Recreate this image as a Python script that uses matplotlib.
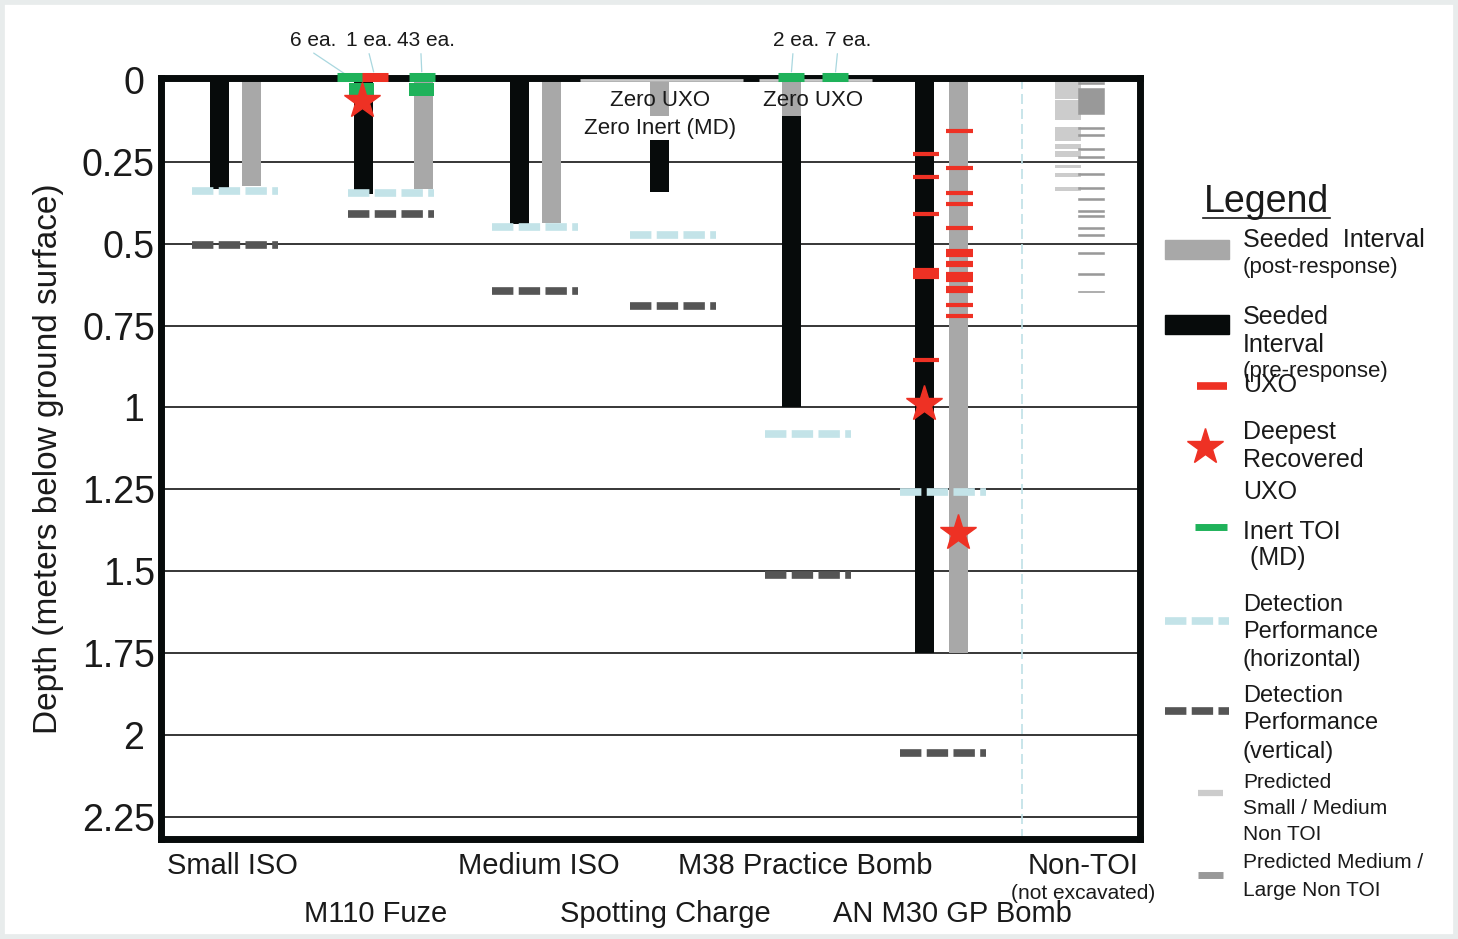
import numpy as np
import matplotlib
matplotlib.use("Agg")
import matplotlib.pyplot as plt
from matplotlib.patches import Rectangle

plt.rcParams['font.family'] = ['Liberation Sans', 'DejaVu Sans']

# ---- data (depth in meters below ground surface) ----
items = ["Small ISO", "M110 Fuze", "Medium ISO", "Spotting Charge",
         "M38 Practice Bomb", "AN M30 GP Bomb"]
pre_depth = [0.333, 0.348, 0.440, 0.342, 1.0, 1.75]     # seeded interval (pre-response)
post_depth = [0.323, 0.333, 0.437, 0.118, 0.109, 1.75]  # seeded interval (post-response)
det_horiz = [0.339, 0.345, 0.449, 0.473, 1.080, 1.257]
det_vert = [0.504, 0.410, 0.645, 0.690, 1.512, 2.054]

# UXO recovered, AN M30 GP Bomb
uxo_pre = [0.225, 0.297, 0.409, 0.581, 0.592, 0.603, 0.856]
uxo_post = [0.156, 0.268, 0.345, 0.379, 0.451, 0.523, 0.529, 0.535,
            0.558, 0.566, 0.594, 0.602, 0.611, 0.635, 0.645, 0.686, 0.721]
deepest_depth = [0.065, 0.991, 1.383]

# inert TOI just below surface (M110)
inert_top = [0.008, 0.008]
inert_bot = [0.048, 0.048]

# counts found at the surface
surface_text = ["6 ea.", "1 ea.", "43 ea.", "2 ea.", "7 ea."]
surface_kind = ["inert", "uxo", "inert", "inert", "inert"]

# non-TOI predictions (not excavated): (top, bottom)
nontoi_small = [(0.0, 0.057), (0.062, 0.123), (0.144, 0.185), (0.195, 0.210),
                (0.218, 0.236), (0.259, 0.268), (0.284, 0.297), (0.327, 0.338)]
nontoi_large = [(0.006, 0.013), (0.024, 0.103), (0.144, 0.150), (0.166, 0.172),
                (0.207, 0.213), (0.231, 0.237), (0.284, 0.290), (0.327, 0.334),
                (0.361, 0.367), (0.397, 0.403), (0.412, 0.418), (0.448, 0.454),
                (0.471, 0.477), (0.525, 0.531), (0.590, 0.596), (0.643, 0.649)]

cat_labels = items + ["Non-TOI"]
label_row = [0, 1, 0, 1, 0, 1, 0]

# ---- layout (x in plot units) ----
pre_x = [219, 363, 519, 659, 791, 924]
post_x = [251, 423, 551, 659, 791, 958]
det_x0 = [192, 348, 492, 630, 765, 900]
label_x = [232, 376, 539, 665, 805, 952, 1083]
inert_x = [361.5, 421.5]
surface_x = [350, 375, 422, 791, 835]
surface_tx = [313, 369, 426, 796, 848]
surface_rel = [0.4, 0.48, 0.41, 0.44, 0.28]
deepest_x = [362, 924, 958]

BLACK = '#070b0b'
GRAY = '#a8a8a8'
RED = '#ee3124'
GREEN = '#1fb25a'
LBLUE = '#c3e3e8'
DGRAY = '#555555'
LGRAY = '#cccccc'
MGRAY = '#999999'
TXT = '#1a1a1a'

fig = plt.figure(figsize=(14.58, 9.39), dpi=100)
fig.patch.set_facecolor('white')
fig.patches.append(Rectangle((0, 0), 1, 1, transform=fig.transFigure, fill=False,
                             edgecolor='#e8ecec', lw=7))

ax = fig.add_axes([160.5 / 1458, 100 / 939, 979 / 1458, 761 / 939])
ax.set_xlim(160.5, 1139.5)
ax.set_ylim(2.318, -0.006)

# grid
for d in np.arange(0.25, 2.26, 0.25):
    ax.axhline(d, color='black', lw=1.1, zorder=1)

# seeded intervals
ax.bar(pre_x, pre_depth, bottom=0, width=19, color=BLACK, zorder=2)
ax.bar(post_x, post_depth, bottom=0, width=19, color=GRAY, zorder=3)

# detection performance
for x0, dh, dv in zip(det_x0, det_horiz, det_vert):
    ax.plot([x0, x0 + 86], [dh, dh], color=LBLUE, lw=5.5, ls=(0, (2.8, 0.7)),
            dash_capstyle='butt', zorder=4)
    ax.plot([x0, x0 + 86], [dv, dv], color=DGRAY, lw=5.5, ls=(0, (2.8, 0.7)),
            dash_capstyle='butt', zorder=4)

# inert TOI boxes
ax.bar(inert_x, np.array(inert_bot) - np.array(inert_top), bottom=inert_top,
       width=25, color=GREEN, zorder=5)

# UXO on AN M30
ax.hlines(uxo_pre, pre_x[5] - 11, pre_x[5] + 15, color=RED, lw=3, zorder=5)
ax.hlines(uxo_post, post_x[5] - 12, post_x[5] + 15, color=RED, lw=3, zorder=5)

# deepest recovered
ax.plot(deepest_x, deepest_depth, ls='none', marker='*', ms=27, color=RED,
        mec=RED, zorder=8)

# non-TOI
for top, bot in nontoi_small:
    ax.bar(1068, bot - top, bottom=top, width=26, color=LGRAY, zorder=3)
for top, bot in nontoi_large:
    ax.bar(1091, bot - top, bottom=top, width=26, color=MGRAY, zorder=3,
           edgecolor=MGRAY, lw=0.4)
ax.axvline(1022, color='#bfe0e6', lw=1.2, ls=(0, (6, 3)), zorder=1)

# light band on surface line
ax.hlines([0.0, 0.0], [580, 759], [743, 872], color='#c8c8c8', lw=2,
          zorder=11, clip_on=False)

# surface counts
for txt, kind, xm, xt, rp in zip(surface_text, surface_kind, surface_x,
                                 surface_tx, surface_rel):
    col = GREEN if kind == 'inert' else RED
    ax.plot([xm - 13, xm + 13], [-0.008, -0.008], color=col, lw=6.5,
            solid_capstyle='butt', zorder=12, clip_on=False)
    ax.annotate(txt, xy=(xm, -0.008), xytext=(xt, -0.122), fontsize=15,
                color=TXT, ha='center', va='center', annotation_clip=False,
                arrowprops=dict(arrowstyle='-', color='#a9d7df', lw=0.9,
                                shrinkA=1, shrinkB=4, relpos=(rp, 0)))

# zero notes
ax.text(660, 0.064, "Zero UXO", fontsize=16, color=TXT, ha='center',
        va='center', zorder=9)
ax.text(660, 0.147, "Zero Inert (MD)", fontsize=16, color=TXT, ha='center',
        va='center', zorder=9,
        bbox=dict(facecolor='white', edgecolor='none', pad=1))
ax.text(813, 0.064, "Zero UXO", fontsize=16, color=TXT, ha='center',
        va='center', zorder=9)

# axes styling
for s in ax.spines.values():
    s.set_linewidth(5)
    s.set_color(BLACK)
    s.set_zorder(10)
ax.set_xticks([])
yt = np.arange(0, 2.26, 0.25)
ax.set_yticks(yt)
ax.set_yticklabels(['0 ', '0.25', '0.5', '0.75', '1 ', '1.25', '1.5', '1.75',
                    '2 ', '2.25'])
ax.tick_params(axis='y', direction='in', length=0, pad=4, labelsize=27,
               labelcolor=TXT)
ax.set_ylabel("Depth (meters below ground surface)", fontsize=24, color=TXT)
ax.yaxis.set_label_coords(-0.0986, 0.5)

# category labels
xt = ax.get_xaxis_transform()
for lab, lx, row in zip(cat_labels, label_x, label_row):
    ax.text(lx, -0.0355 if row == 0 else -0.0986, lab, transform=xt,
            fontsize=21, color=TXT, ha='center', va='center', clip_on=False)
ax.text(1083, -0.071, "(not excavated)", transform=xt, fontsize=15, color=TXT,
        ha='center', va='center', clip_on=False)

# ---- legend ----
lax = fig.add_axes([0, 0, 1, 1])
lax.set_xlim(0, 1458)
lax.set_ylim(939, 0)
lax.axis('off')
lax.text(1267, 202, "Legend", fontsize=27, color=TXT, ha='center', va='center')
lax.plot([1203, 1330], [218, 218], color=TXT, lw=1.2)
lax.add_patch(Rectangle((1165, 240), 64, 19, color=GRAY))
lax.add_patch(Rectangle((1165, 315), 64, 19, color=BLACK))
lax.plot([1197, 1227], [386, 386], color=RED, lw=5.5, solid_capstyle='butt')
lax.plot([1205], [447], marker='*', ms=27, color=RED, mec=RED)
lax.plot([1195, 1227], [526.5, 526.5], color=GREEN, lw=5, solid_capstyle='butt')
lax.plot([1165, 1229], [621, 621], color=LBLUE, lw=5.5, ls=(0, (2.8, 0.7)),
         dash_capstyle='butt')
lax.plot([1165, 1229], [711, 711], color=DGRAY, lw=5.5, ls=(0, (2.8, 0.7)),
         dash_capstyle='butt')
lax.plot([1198, 1223], [793, 793], color=LGRAY, lw=4.5, solid_capstyle='butt')
lax.plot([1198, 1223], [875, 875], color=MGRAY, lw=5, solid_capstyle='butt')

leg_lines = [("Seeded  Interval", 240, 18), ("(post-response)", 268, 16),
             ("Seeded", 317, 18), ("Interval", 345, 18),
             ("(pre-response)", 372, 16), ("UXO", 385, 18),
             ("Deepest", 432, 18), ("Recovered", 460, 18), ("UXO", 492, 18),
             ("Inert TOI", 532, 18), (" (MD)", 558, 18),
             ("Detection", 605, 17), ("Performance", 632, 17),
             ("(horizontal)", 660, 17), ("Detection", 696, 17),
             ("Performance", 723, 17), ("(vertical)", 752, 17),
             ("Predicted", 782, 15), ("Small / Medium", 808, 15),
             ("Non TOI", 835, 15), ("Predicted Medium /", 863, 15),
             ("Large Non TOI", 890, 15)]
for txt, y, fs in leg_lines:
    lax.text(1243, y, txt, fontsize=fs, color=TXT, ha='left', va='center')

fig.savefig("out.png", dpi=100, facecolor='white')
